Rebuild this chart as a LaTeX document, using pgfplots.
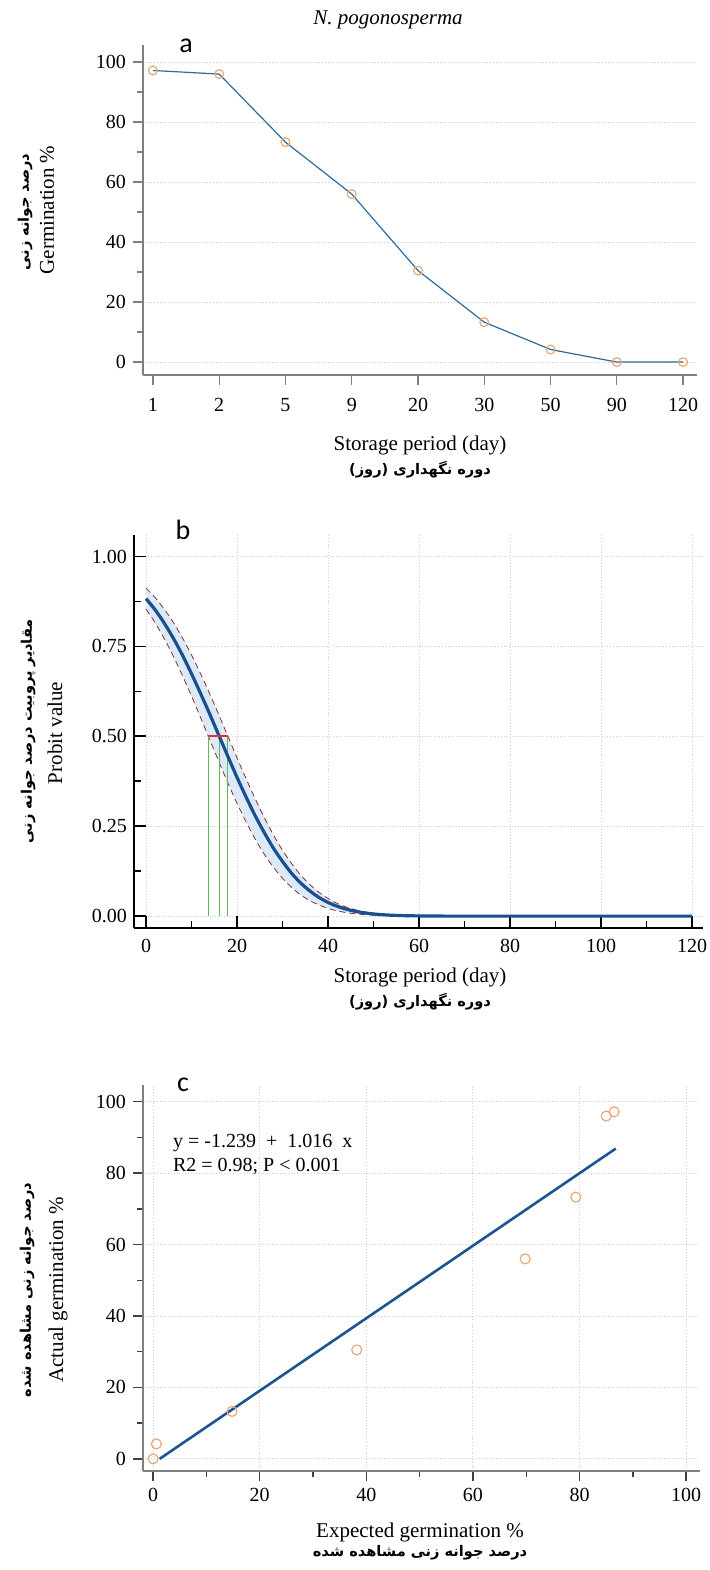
\documentclass[border=0pt]{standalone}
\usepackage{fontspec}
\setmainfont{Liberation Serif}
\newfontfamily\arabicfont[Script=Arabic]{DejaVu Sans}
\newfontfamily\djv{DejaVu Sans}
\newfontfamily\calfont{Carlito}
\usepackage{pgfplots}
\pgfplotsset{compat=1.18}
\TeXXeTstate=1

\definecolor{lineA}{HTML}{2F6A9A}
\definecolor{markO}{HTML}{E8A878}
\definecolor{markF}{HTML}{FFF4EA}
\definecolor{probit}{HTML}{1A4F8F}
\definecolor{band}{HTML}{DCE9F7}
\definecolor{bound}{HTML}{8E2B2B}
\definecolor{greenl}{HTML}{5CB85C}
\definecolor{redl}{HTML}{E0303A}
\definecolor{regl}{HTML}{1D5592}
\definecolor{axgray}{HTML}{7F7F7F}
\definecolor{gridc}{HTML}{CFCFCF}

\pgfplotsset{base/.style={scale only axis, anchor=south west, axis lines=left,
  axis line style={-}, /pgf/number format/assume math mode=true,
  tick label style={font=\fontsize{10}{12}\selectfont},
  grid style={densely dotted, gridc, line width=0.5pt},
  major tick length=5pt, minor tick length=3pt, clip=false}}

\newcommand{\fa}{\arabicfont\bfseries\fontsize{7.3}{8.5}\selectfont}
\newcommand{\en}{\fontsize{10.5}{12}\selectfont}
\newcommand{\ruz}{\beginL{\djv\bfseries(}\beginR روز\endR{\djv\bfseries)} \beginR دوره نگهداری\endR\endL}

\begin{document}
\begin{tikzpicture}
\useasboundingbox (0,0) rectangle (355pt,785pt);

% ---------------- panel a
\begin{axis}[base, at={(71.5pt,597.5pt)}, width=277pt, height=165pt,
  xmin=-0.15, xmax=8.21, ymin=-4.3, ymax=105.7,
  xtick={0,...,8}, xticklabels={1,2,5,9,20,30,50,90,120},
  xticklabel style={yshift=-3pt},
  ytick={0,20,...,100}, minor ytick={10,30,50,70,90},
  ymajorgrids, tick align=outside,
  axis line style={axgray, line width=0.6pt}, tick style={axgray, line width=0.6pt}]
\addplot[lineA, line width=0.6pt, mark=o, mark size=2.2pt,
  mark options={draw=markO, fill=markF, line width=0.6pt}]
  coordinates {(0,97.2)(1,96)(2,73.3)(3,56)(4,30.5)(5,13.3)(6,4.2)(7,0)(8,0)};
\end{axis}

% ---------------- panel b
\begin{axis}[base, at={(67pt,321pt)}, width=284.5pt, height=196.5pt,
  xmin=-2.64, xmax=122.4, ymin=-0.033, ymax=1.06,
  xtick={0,20,...,120}, minor xtick={10,30,...,110},
  xticklabel style={yshift=-2pt},
  ytick={0,0.25,0.5,0.75,1}, yticklabels={0.00,0.25,0.50,0.75,1.00},
  minor ytick={0.125,0.375,0.625,0.875},
  grid=major, tick align=inside, major tick length=6pt, minor tick length=3.5pt,
  axis line style={black, line width=1.1pt}, tick style={black, line width=0.9pt}]
% confidence band (upper bound forward, lower bound back)
\addplot[fill=band, draw=none] coordinates {
(0,0.912)(2,0.886)(4,0.854)(6,0.817)(8,0.774)(10,0.726)(12,0.674)(14,0.618)(16,0.560)
(18,0.500)(20,0.440)(22,0.382)(24,0.326)(26,0.274)(28,0.226)(30,0.183)(32,0.146)
(34,0.114)(36,0.088)(38,0.066)(40,0.049)(42,0.0355)(44,0.0253)(46,0.0176)(48,0.0120)
(50,0.0081)(52,0.0053)(55,0.0027)(60,0.0008)(70,0)
(70,0)(60,0.0001)(55,0.0007)(52,0.0016)(50,0.0026)(48,0.0042)(46,0.0065)(44,0.0099)
(42,0.0147)(40,0.0215)(38,0.031)(36,0.043)(34,0.059)(32,0.080)(30,0.105)(28,0.136)
(26,0.172)(24,0.214)(22,0.262)(20,0.314)(18,0.370)(16,0.430)(14,0.491)(12,0.552)
(10,0.612)(8,0.669)(6,0.723)(4,0.772)(2,0.816)(0,0.854)};
\addplot[bound, densely dashed, line width=0.4pt, smooth] coordinates {
(0,0.912)(2,0.886)(4,0.854)(6,0.817)(8,0.774)(10,0.726)(12,0.674)(14,0.618)(16,0.560)
(18,0.500)(20,0.440)(22,0.382)(24,0.326)(26,0.274)(28,0.226)(30,0.183)(32,0.146)
(34,0.114)(36,0.088)(38,0.066)(40,0.049)(42,0.0355)(44,0.0253)(46,0.0176)(48,0.0120)
(50,0.0081)(52,0.0053)(55,0.0027)(60,0.0008)(70,0)(120,0)};
\addplot[bound, densely dashed, line width=0.4pt, smooth] coordinates {
(0,0.854)(2,0.816)(4,0.772)(6,0.723)(8,0.669)(10,0.612)(12,0.552)(14,0.491)(16,0.430)
(18,0.370)(20,0.314)(22,0.262)(24,0.214)(26,0.172)(28,0.136)(30,0.105)(32,0.080)
(34,0.059)(36,0.043)(38,0.031)(40,0.0215)(42,0.0147)(44,0.0099)(46,0.0065)(48,0.0042)
(50,0.0026)(52,0.0016)(55,0.0007)(60,0.0001)(70,0)(120,0)};
\addplot[greenl, line width=0.5pt] coordinates {(13.7,0)(13.7,0.5)};
\addplot[greenl, line width=0.5pt] coordinates {(16.1,0)(16.1,0.5)};
\addplot[greenl, line width=0.5pt] coordinates {(18.0,0)(18.0,0.5)};
\addplot[probit, line width=1.6pt, smooth] coordinates {
(0,0.883)(2,0.852)(4,0.815)(6,0.773)(8,0.726)(10,0.674)(12,0.619)(14,0.562)(16,0.503)
(18,0.444)(20,0.386)(22,0.331)(24,0.279)(26,0.232)(28,0.189)(30,0.152)(32,0.119)
(34,0.092)(36,0.070)(38,0.052)(40,0.038)(42,0.0275)(44,0.0194)(46,0.0134)(48,0.0091)
(50,0.0060)(52,0.0039)(55,0.0020)(60,0.0006)(70,0)(120,0)};
\addplot[redl, line width=1pt] coordinates {(13.7,0.5)(18.1,0.5)};
\end{axis}

% ---------------- panel c
\begin{axis}[base, at={(71.5pt,49.5pt)}, width=278.5pt, height=193pt,
  xmin=-1.9, xmax=102.6, ymin=-3.4, ymax=104.7,
  xtick={0,20,...,100}, minor xtick={10,30,...,90},
  ytick={0,20,...,100}, minor ytick={10,30,...,90},
  grid=major, tick align=outside,
  axis line style={axgray, line width=0.6pt}, tick style={black!75, line width=0.7pt}]
\addplot[regl, line width=1.3pt] coordinates {(1.22,0)(86.8,86.9)};
\addplot[only marks, mark=o, mark size=2.5pt, mark options={draw=markO, line width=0.6pt}]
  coordinates {(86.5,97.2)(85.0,96)(79.3,73.3)(69.8,56)(38.2,30.5)(14.8,13.3)(0.6,4.2)(0,0)};
\end{axis}

% ---------------- texts
\node[font=\fontsize{10.5}{12}\selectfont\itshape] at (194pt,775pt) {N. pogonosperma};
\node[font=\calfont\fontsize{14}{16}\selectfont] at (93pt,762pt) {a};
\node[font=\calfont\fontsize{14}{16}\selectfont] at (91.5pt,520pt) {b};
\node[font=\calfont\fontsize{14}{16}\selectfont] at (91.5pt,242.5pt) {c};

\node[rotate=90, font=\en] at (23.5pt,680pt) {Germination \%};
\node[rotate=90, font=\fa] at (12.5pt,679pt) {\beginR درصد جوانه زنی\endR};
\node[font=\en] at (210pt,562.5pt) {Storage period (day)};
\node[font=\fa] at (210pt,550pt) {\ruz};

\node[rotate=90, font=\en] at (27.5pt,418.5pt) {Probit value};
\node[rotate=90, font=\fa] at (14pt,419.5pt) {\beginR مقادیر پروبیت درصد جوانه زنی\endR};
\node[font=\en] at (210pt,296.5pt) {Storage period (day)};
\node[font=\fa] at (210pt,284pt) {\ruz};

\node[rotate=90, font=\en] at (29pt,140pt) {Actual germination \%};
\node[rotate=90, font=\fa] at (13.5pt,140pt) {\beginR درصد جوانه زنی مشاهده شده\endR};
\node[font=\en] at (210pt,19pt) {Expected germination \%};
\node[font=\fa] at (210pt,8.5pt) {\beginR درصد جوانه زنی مشاهده شده\endR};

\node[anchor=west, font=\fontsize{10}{11}\selectfont] at (83pt,213.5pt) {y = -1.239\ \ +\ \ 1.016\ \ x};
\node[anchor=west, font=\fontsize{10}{11}\selectfont] at (83pt,202pt) {R2 = 0.98; P < 0.001};
\end{tikzpicture}
\end{document}
